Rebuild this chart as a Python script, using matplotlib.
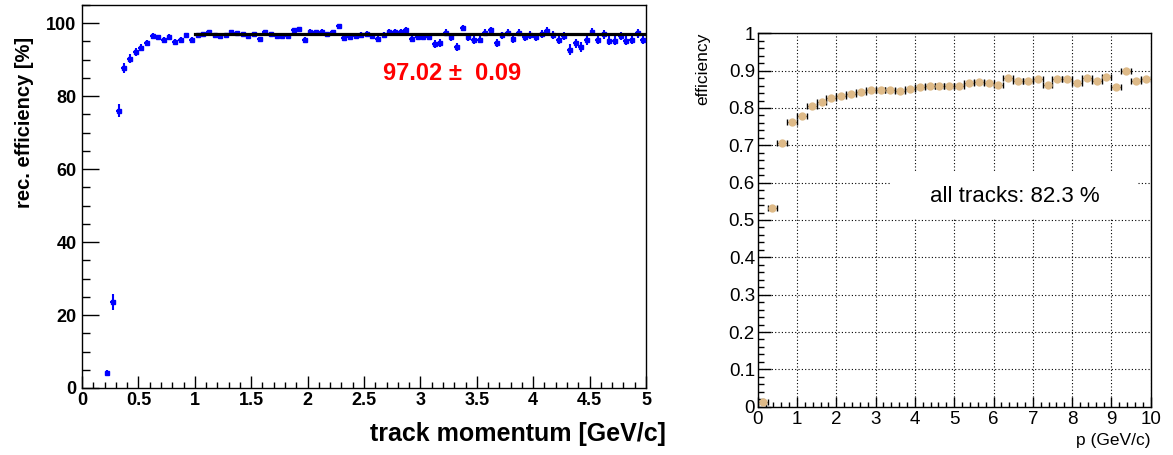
import matplotlib
matplotlib.use("Agg")
import matplotlib.pyplot as plt
from matplotlib.patches import Rectangle
from matplotlib.ticker import MultipleLocator

plt.rcParams.update({"font.family": "Liberation Sans"})

# left panel: reconstruction efficiency vs track momentum (bins of 0.05 GeV/c)
p_left = [0.225, 0.275, 0.325, 0.375, 0.425, 0.475, 0.525, 0.575, 0.625, 0.675,
          0.725, 0.775, 0.825, 0.875, 0.925, 0.975, 1.025, 1.075, 1.125, 1.175,
          1.225, 1.275, 1.325, 1.375, 1.425, 1.475, 1.525, 1.575, 1.625, 1.675,
          1.725, 1.775, 1.825, 1.875, 1.925, 1.975, 2.025, 2.075, 2.125, 2.175,
          2.225, 2.275, 2.325, 2.375, 2.425, 2.475, 2.525, 2.575, 2.625, 2.675,
          2.725, 2.775, 2.825, 2.875, 2.925, 2.975, 3.025, 3.075, 3.125, 3.175,
          3.225, 3.275, 3.325, 3.375, 3.425, 3.475, 3.525, 3.575, 3.625, 3.675,
          3.725, 3.775, 3.825, 3.875, 3.925, 3.975, 4.025, 4.075, 4.125, 4.175,
          4.225, 4.275, 4.325, 4.375, 4.425, 4.475, 4.525, 4.575, 4.625, 4.675,
          4.725, 4.775, 4.825, 4.875, 4.925, 4.975]
eff_left = [4.0, 23.5, 76.0, 87.8, 90.3, 92.0, 93.3, 94.6, 96.6, 96.1,
            95.5, 96.2, 94.8, 95.5, 96.7, 95.5, 96.8, 97.0, 97.5, 96.8,
            96.6, 96.8, 97.6, 97.3, 97.0, 96.6, 97.1, 95.6, 97.6, 97.1,
            96.4, 96.6, 96.6, 98.1, 98.3, 95.3, 97.6, 97.5, 97.7, 97.0,
            97.5, 99.2, 96.0, 96.2, 96.4, 96.7, 97.1, 96.6, 95.8, 96.8,
            97.6, 97.6, 97.7, 98.1, 95.8, 96.3, 96.3, 96.2, 94.3, 94.6,
            97.4, 96.1, 93.4, 98.6, 96.1, 95.4, 95.5, 97.4, 98.1, 94.5,
            96.7, 97.4, 95.8, 97.4, 96.3, 96.7, 96.3, 97.0, 97.9, 96.7,
            95.5, 96.5, 92.8, 94.5, 93.5, 95.4, 97.6, 95.5, 97.0, 95.2,
            95.2, 96.5, 95.2, 95.5, 97.2, 95.5]
err_left = [0.8, 2.2, 1.8, 1.4, 1.2, 1.1, 1.0, 0.9, 0.8, 0.8,
            0.8, 0.8, 0.8, 0.7, 0.7, 0.7, 0.6, 0.6, 0.6, 0.6,
            0.6, 0.6, 0.6, 0.6, 0.6, 0.7, 0.6, 0.7, 0.6, 0.6,
            0.7, 0.7, 0.7, 0.6, 0.6, 0.8, 0.7, 0.7, 0.7, 0.7,
            0.7, 0.5, 0.8, 0.8, 0.8, 0.8, 0.8, 0.8, 0.9, 0.8,
            0.8, 0.8, 0.8, 0.8, 0.9, 0.9, 0.9, 0.9, 1.0, 1.0,
            0.9, 0.9, 1.1, 0.8, 1.0, 1.0, 1.0, 0.9, 0.9, 1.1,
            1.0, 1.0, 1.1, 1.0, 1.1, 1.1, 1.1, 1.1, 1.0, 1.1,
            1.2, 1.2, 1.5, 1.3, 1.4, 1.3, 1.2, 1.3, 1.2, 1.3,
            1.3, 1.2, 1.3, 1.3, 1.2, 1.3]
bin_half_left = 0.025
fit_value = 97.02
fit_error = 0.09
fit_range = [1.0, 5.0]
xticks_left = [0, 0.5, 1, 1.5, 2, 2.5, 3, 3.5, 4, 4.5, 5]
xlabels_left = ["0", "0.5", "1", "1.5", "2", "2.5", "3", "3.5", "4", "4.5", "5"]
yticks_left = [0, 20, 40, 60, 80, 100]

# right panel: efficiency vs p (bins of 0.25 GeV/c)
p_right = [0.125, 0.375, 0.625, 0.875, 1.125, 1.375, 1.625, 1.875, 2.125, 2.375,
           2.625, 2.875, 3.125, 3.375, 3.625, 3.875, 4.125, 4.375, 4.625, 4.875,
           5.125, 5.375, 5.625, 5.875, 6.125, 6.375, 6.625, 6.875, 7.125, 7.375,
           7.625, 7.875, 8.125, 8.375, 8.625, 8.875, 9.125, 9.375, 9.625, 9.875]
eff_right = [0.012, 0.533, 0.705, 0.762, 0.779, 0.805, 0.815, 0.827, 0.831, 0.838,
             0.843, 0.847, 0.847, 0.849, 0.846, 0.852, 0.856, 0.860, 0.858, 0.860,
             0.858, 0.867, 0.870, 0.867, 0.862, 0.880, 0.871, 0.872, 0.877, 0.861,
             0.878, 0.878, 0.867, 0.881, 0.872, 0.884, 0.855, 0.900, 0.872, 0.877]
bin_half_right = 0.125
all_tracks = 82.3
xticks_right = [0, 1, 2, 3, 4, 5, 6, 7, 8, 9, 10]
yticks_right = [0, 0.1, 0.2, 0.3, 0.4, 0.5, 0.6, 0.7, 0.8, 0.9, 1]
ylabels_right = ["0", "0.1", "0.2", "0.3", "0.4", "0.5", "0.6", "0.7", "0.8", "0.9", "1"]

W, H = 1173, 455
fig = plt.figure(figsize=(W / 100, H / 100), dpi=100)

# ---------------- left panel ----------------
axl = fig.add_axes([82 / W, 1 - 388 / H, (646 - 82) / W, (388 - 5) / H])
axl.errorbar(p_left, eff_left, xerr=bin_half_left, yerr=err_left, fmt="s", ms=2.5,
             color="#0000ff", ecolor="#0000ff", elinewidth=1.5, capsize=0, zorder=3)
axl.plot(fit_range, [fit_value, fit_value], color="black", lw=2.3, zorder=4)
axl.text(2.67, 86.2, f"{fit_value:.2f} \u00b1  {fit_error:.2f}", color="#ff0000",
         fontsize=17, fontweight="bold", ha="left", va="center")

axl.set_xlim(0, 5)
axl.set_ylim(0, 105)
axl.set_xticks(xticks_left, xlabels_left)
axl.set_yticks(yticks_left, [str(v) for v in yticks_left])
axl.xaxis.set_minor_locator(MultipleLocator(0.1))
axl.yaxis.set_minor_locator(MultipleLocator(5))
axl.tick_params(axis="y", which="major", direction="in", length=12, width=1,
                labelsize=13, pad=4)
axl.tick_params(axis="y", which="minor", direction="in", length=6, width=1)
axl.tick_params(axis="x", which="major", direction="in", length=8.5, width=1,
                labelsize=13, pad=3)
axl.tick_params(axis="x", which="minor", direction="in", length=4.3, width=1)
for lab in axl.get_xticklabels() + axl.get_yticklabels():
    lab.set_fontweight("bold")
for s in axl.spines.values():
    s.set_linewidth(1)

fig.text(666 / W, 1 - 441 / H, "track momentum [GeV/c]", fontsize=18,
         fontweight="bold", ha="right", va="baseline")
fig.text(25 / W, 1 - 37 / H, "rec. efficiency [%]", fontsize=14.5,
         fontweight="bold", rotation=90, ha="center", va="top")

# ---------------- right panel ----------------
axr = fig.add_axes([757.7 / W, 1 - 406.7 / H, (1150.7 - 757.7) / W, (406.7 - 33.3) / H])
axr.set_axisbelow(True)
axr.add_patch(Rectangle((3.37, 0.503), 6.28, 0.123, facecolor="white",
                        edgecolor="none", zorder=1))
axr.errorbar(p_right, eff_right, xerr=bin_half_right, fmt="none", ecolor="black",
             elinewidth=1, capsize=2.5, capthick=1, zorder=2)
axr.plot(p_right, eff_right, "o", color="#deba88", ms=6, mec="none", zorder=3)
axr.text(6.55, 0.563, f"all tracks: {all_tracks:.1f} %", fontsize=16,
         ha="center", va="center", zorder=4)

axr.set_xlim(0, 10)
axr.set_ylim(0, 1)
axr.set_xticks(xticks_right, [str(v) for v in xticks_right])
axr.set_yticks(yticks_right, ylabels_right)
axr.xaxis.set_minor_locator(MultipleLocator(0.2))
axr.yaxis.set_minor_locator(MultipleLocator(0.02))
axr.grid(True, which="major", color="black", ls=(0, (1, 2)), lw=0.8)
axr.tick_params(axis="y", which="major", direction="in", length=9.5, width=1,
                labelsize=13.5, pad=2)
axr.tick_params(axis="y", which="minor", direction="in", length=4.5, width=1)
axr.tick_params(axis="x", which="major", direction="in", length=7.2, width=1,
                labelsize=13.5, pad=3)
axr.tick_params(axis="x", which="minor", direction="in", length=3.6, width=1)
for s in axr.spines.values():
    s.set_linewidth(1)

fig.text(703 / W, 1 - 33 / H, "efficiency", fontsize=12.5, rotation=90,
         ha="center", va="top")
fig.text(1150 / W, 1 - 441 / H, "p (GeV/c)", fontsize=12.5, ha="right", va="center")

fig.savefig("out.png", dpi=100)
